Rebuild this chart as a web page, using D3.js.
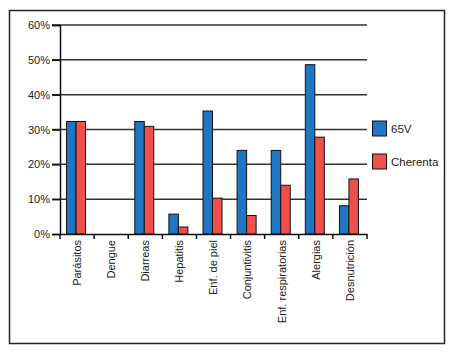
<!DOCTYPE html>
<html><head><meta charset="utf-8">
<script src="https://cdn.jsdelivr.net/npm/d3@7"></script>
<style>body{margin:0;background:#fff}svg{display:block}text{font-family:"Liberation Sans",Arial,sans-serif}</style>
</head><body><svg id="c" width="450" height="355"></svg>
<script>
const categories = ["Parásitos","Dengue","Diarreas","Hepatitis","Enf. de piel","Conjuntivitis","Enf. respiratorias","Alergias","Desnutrición"];
const series = ["65V","Cherenta"];
const values65V = [32.3,0,32.3,5.7,35.3,24.0,24.0,48.6,8.1];
const valuesCherenta = [32.3,0,30.9,2.0,10.3,5.3,14.0,27.8,15.8];
const yTicks = [0,10,20,30,40,50,60];
const colors = ["#1f77c4","#f0504b"];

const svg = d3.select("#c");
svg.append("rect").attr("x",9.5).attr("y",10.5).attr("width",435).attr("height",333)
  .attr("fill","none").attr("stroke","#222").attr("stroke-width",1.5);

const L=60,R=367,T=25,B=234;
const x = d3.scaleBand().domain(categories).range([L,R]);
const xs = d3.scaleBand().domain(series).range([0,19]);
const y = d3.scaleLinear().domain([0,60]).range([B,T]);

// gridlines
svg.append("g").selectAll("line").data(yTicks.filter(d=>d>0)).join("line")
  .attr("x1",L-8).attr("x2",R).attr("y1",d=>y(d)).attr("y2",d=>y(d))
  .attr("stroke","#333").attr("stroke-width",1.5);

const data = categories.map((c,i)=>({c,v:[values65V[i],valuesCherenta[i]]}));
const g = svg.append("g");
data.forEach(d=>{
  const off = x(d.c)+(x.bandwidth()-19)/2 - 1;
  d.v.forEach((v,j)=>{
    if(v<=0) return;
    g.append("rect").attr("x",off+xs(series[j])).attr("y",y(v))
      .attr("width",xs.bandwidth()).attr("height",B-y(v))
      .attr("fill",colors[j]).attr("stroke","#111").attr("stroke-width",1);
  });
});

// y axis
const ya = svg.append("g").attr("transform",`translate(${L},0)`)
  .call(d3.axisLeft(y).tickValues(yTicks).tickFormat(d=>d+"%").tickSize(8));
ya.select(".domain").attr("stroke","#111").attr("stroke-width",1.5);
ya.selectAll(".tick line").attr("stroke","#111").attr("stroke-width",1.5);
ya.selectAll("text").attr("font-size",11).attr("fill","#222").attr("x",-10);

// x axis
const xa = svg.append("g").attr("transform",`translate(0,${B})`)
  .call(d3.axisBottom(x).tickSize(0));
xa.select(".domain").attr("stroke","#111").attr("stroke-width",1.5);
xa.selectAll(".tick text").attr("font-size",11).attr("fill","#222")
  .attr("transform","rotate(-90)").attr("text-anchor","end")
  .attr("x",-6).attr("y",0).attr("dy","0.35em");
const bounds = [L].concat(categories.map(c=>x(c)+x.bandwidth()));
svg.append("g").selectAll("line").data(bounds).join("line")
  .attr("x1",d=>d).attr("x2",d=>d).attr("y1",B).attr("y2",B+5)
  .attr("stroke","#111").attr("stroke-width",1.5);

// legend
const leg = svg.append("g");
series.forEach((s,i)=>{
  const yy = 121 + i*33;
  leg.append("rect").attr("x",372.5).attr("y",yy).attr("width",14).attr("height",15)
    .attr("fill",colors[i]).attr("stroke","#111").attr("stroke-width",1);
  leg.append("text").attr("x",391).attr("y",yy+8).attr("dy","0.35em")
    .attr("font-size",11.5).attr("fill","#222").text(s);
});
</script></body></html>
